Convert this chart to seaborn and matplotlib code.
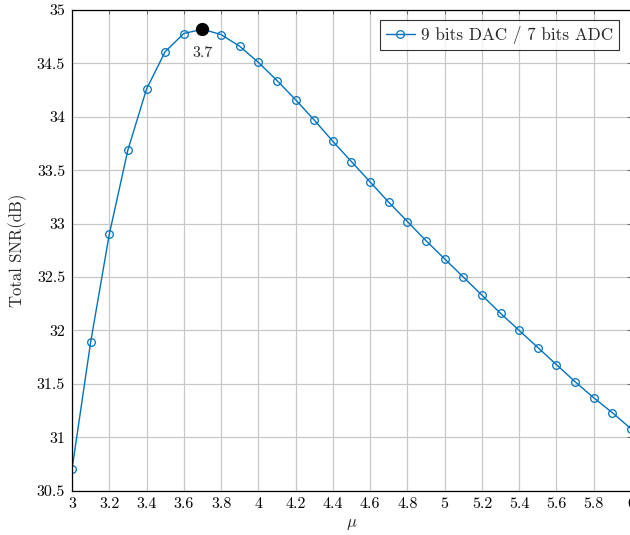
import numpy as np
import pandas as pd
import matplotlib
matplotlib.use("Agg")
import matplotlib.pyplot as plt
import seaborn as sns

mu = [3.0, 3.1, 3.2, 3.3, 3.4, 3.5, 3.6, 3.7, 3.8, 3.9,
      4.0, 4.1, 4.2, 4.3, 4.4, 4.5, 4.6, 4.7, 4.8, 4.9,
      5.0, 5.1, 5.2, 5.3, 5.4, 5.5, 5.6, 5.7, 5.8, 5.9, 6.0]
snr = [30.70, 31.89, 32.90, 33.69, 34.26, 34.61, 34.78, 34.82, 34.77, 34.66,
       34.51, 34.34, 34.16, 33.97, 33.77, 33.58, 33.39, 33.20, 33.02, 32.84,
       32.67, 32.50, 32.33, 32.16, 32.00, 31.84, 31.68, 31.52, 31.37, 31.23, 31.08]
series_label = "9 bits DAC / 7 bits ADC"
best_mu = 3.7
best_snr = 34.82
xticks = [3, 3.2, 3.4, 3.6, 3.8, 4, 4.2, 4.4, 4.6, 4.8, 5, 5.2, 5.4, 5.6, 5.8, 6]
yticks = [30.5, 31, 31.5, 32, 32.5, 33, 33.5, 34, 34.5, 35]

sns.set_theme(style="white")
plt.rcParams['font.family'] = ['serif']
plt.rcParams['font.serif'] = ['cmr10']
plt.rcParams['mathtext.fontset'] = 'cm'
plt.rcParams['axes.formatter.use_mathtext'] = True

df = pd.DataFrame({"mu": mu, "snr": snr, "series": series_label})

fig = plt.figure(figsize=(6.3, 5.35), dpi=100)
ax = fig.add_axes([72/630, 1-490.7/535, (631-72)/630, (490.7-10)/535])

blue = "#0072BD"
sns.lineplot(data=df, x="mu", y="snr", ax=ax, color=blue, lw=1.0,
             marker="o", markersize=5.5, markerfacecolor="none",
             markeredgecolor=blue, markeredgewidth=0.9, label=series_label)
ax.plot([best_mu], [best_snr], "o", color="black", markersize=8.5, zorder=5)
ax.annotate(f"{best_mu}", (best_mu, best_snr), xytext=(0, -22),
            textcoords="offset points", ha="center", va="bottom", fontsize=11.5)

ax.set_xlim(3, 6)
ax.set_ylim(30.5, 35)
ax.set_xticks(xticks)
ax.set_xticklabels([f"{t:g}" for t in xticks])
ax.set_yticks(yticks)
ax.set_yticklabels([f"{t:g}" for t in yticks])
ax.grid(True, color="#c8c8c8", lw=0.9)
ax.tick_params(direction="in", top=True, right=True, length=3, width=0.6,
               color="#555555", labelsize=11.5, labelcolor="black", pad=5)
for s in ax.spines.values():
    s.set_color("black")
    s.set_linewidth(0.9)
ax.set_xlabel(r"$\mu$", fontsize=12, labelpad=4)
ax.set_ylabel("Total SNR(dB)", fontsize=12, labelpad=7)

leg = ax.legend(loc="upper right", fontsize=12.3, frameon=True, fancybox=False,
                borderaxespad=0.0, handlelength=1.7, handletextpad=0.35,
                borderpad=0.35, bbox_to_anchor=(1 - 12/559, 1 - 10/481))
leg.get_frame().set_edgecolor("black")
leg.get_frame().set_linewidth(0.8)

fig.savefig("out.png", dpi=100)
